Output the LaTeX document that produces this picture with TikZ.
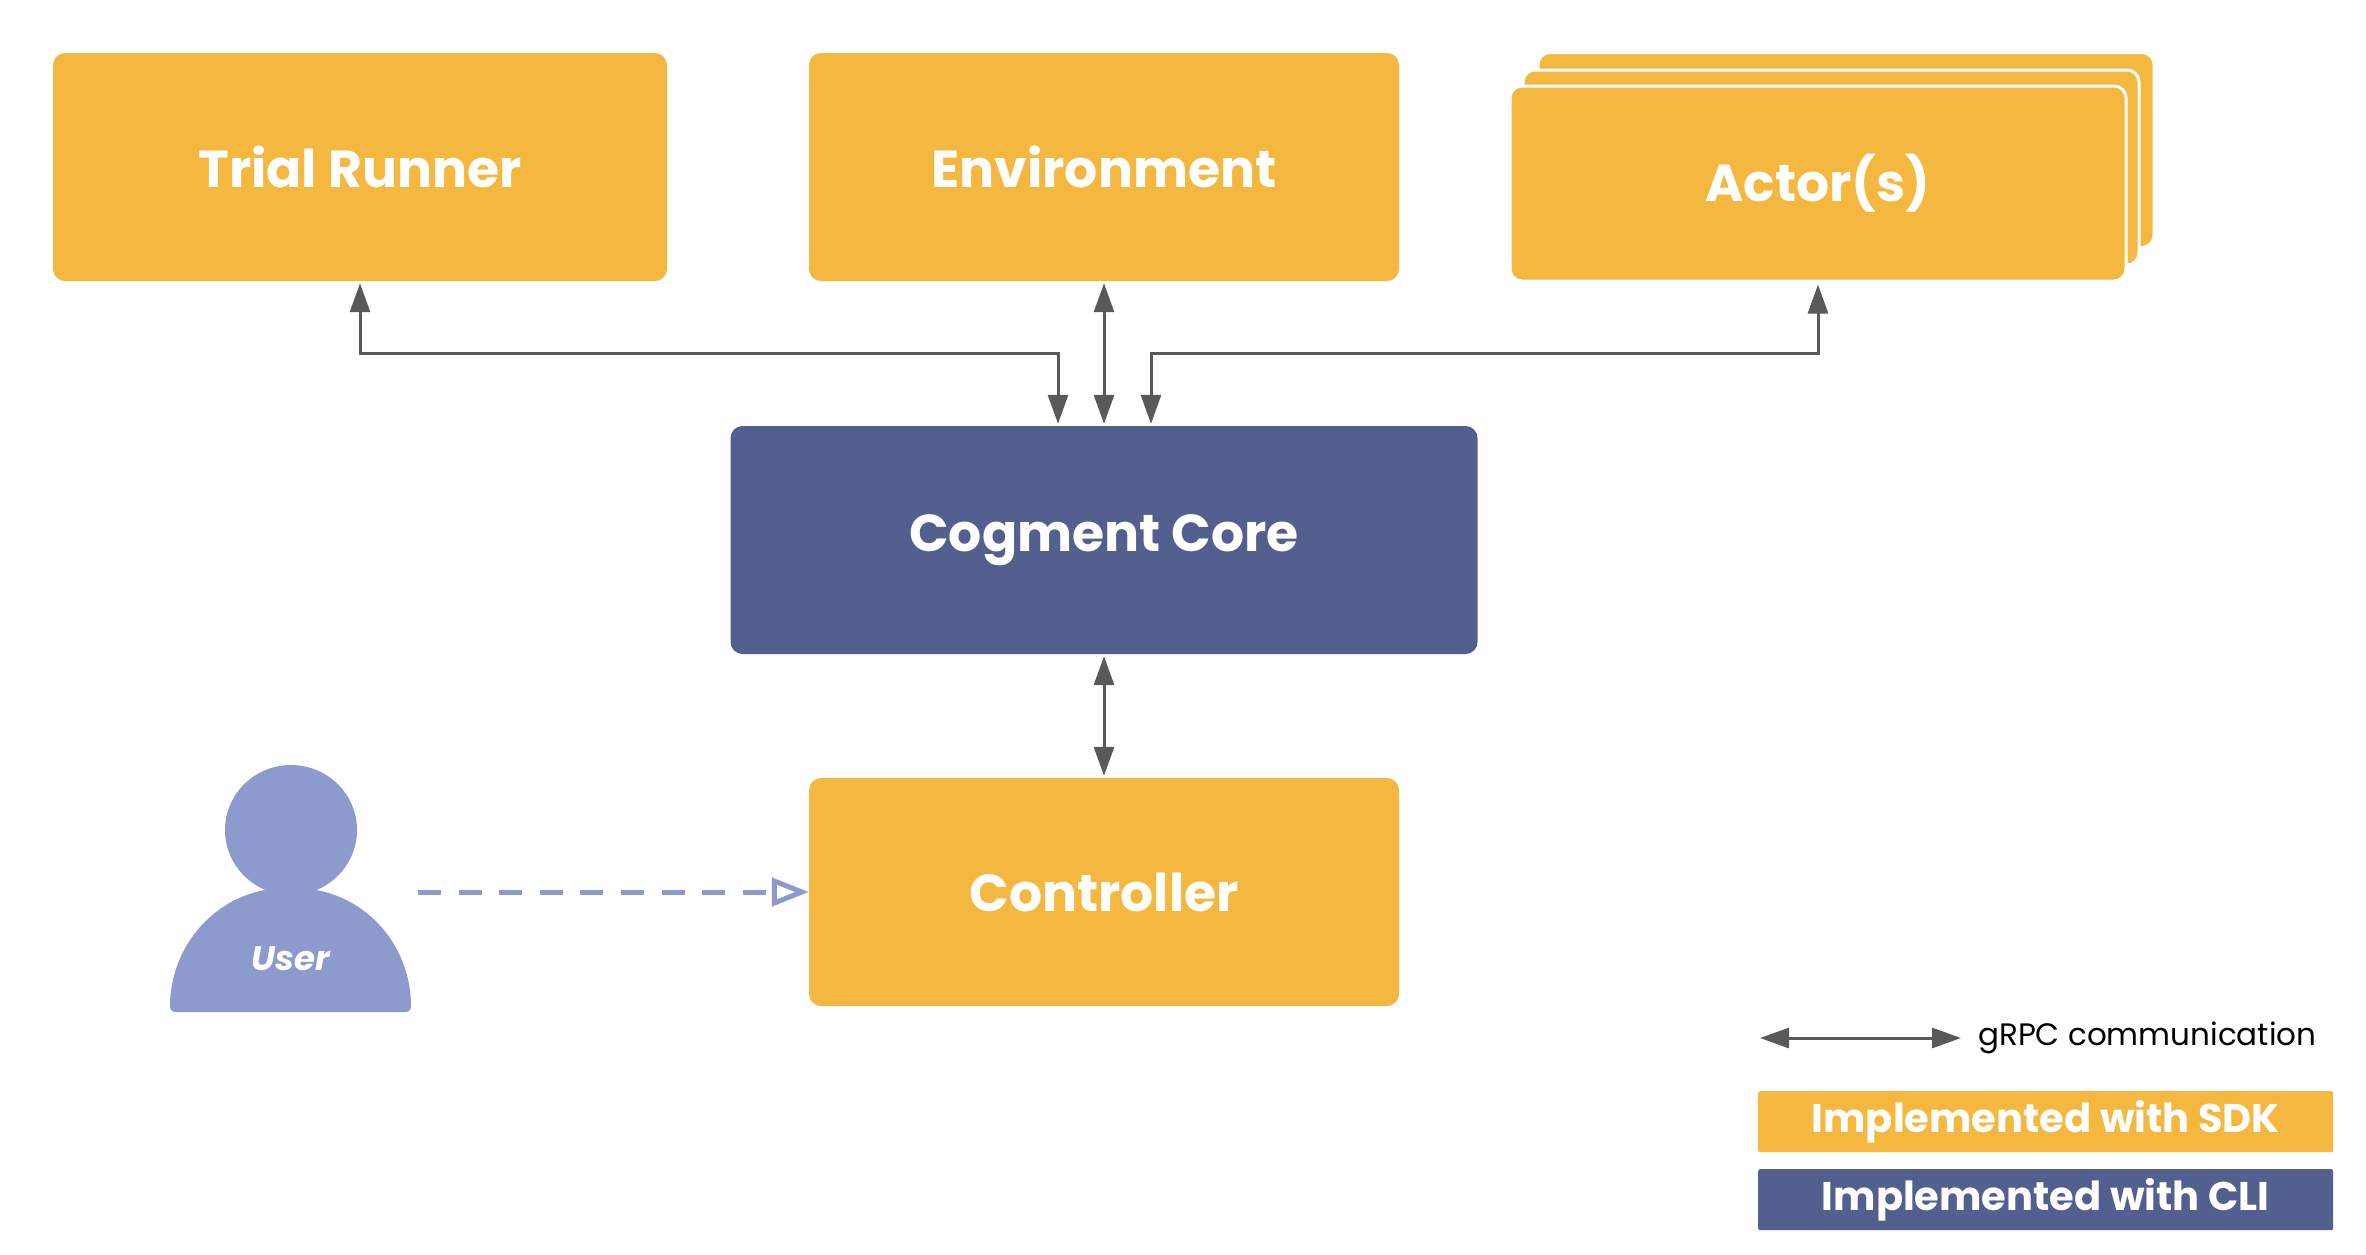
\documentclass[tikz,border=0pt]{standalone}
\usepackage{fontspec}
\setmainfont{Poppins}
\usetikzlibrary{arrows.meta,calc}
\definecolor{sdk}{HTML}{F4B840}
\definecolor{cli}{HTML}{535F8E}
\definecolor{userc}{HTML}{8C9ACD}
\definecolor{wire}{HTML}{595959}
\tikzset{
  box/.style={rounded corners=12pt,minimum width=#1,inner sep=0pt,text=white,font=\fontsize{52}{60}\selectfont\bfseries},
  sdkbox/.style={box=590pt,fill=sdk,minimum height=228pt},
  clibox/.style={box=747pt,fill=cli,minimum height=228pt},
  actorbox/.style={box=616pt,fill=sdk,draw=white,line width=3pt,minimum height=195pt},
  legendbox/.style={rounded corners=2pt,minimum width=575pt,minimum height=61pt,inner sep=0pt,text=white,font=\fontsize{40}{48}\selectfont\bfseries},
  grpc/.style={draw=wire,line width=3pt,{Triangle[length=29pt,width=20pt]}-{Triangle[length=29pt,width=20pt]},shorten <=2pt,shorten >=2pt},
  userflow/.style={draw=userc,line width=5pt,dash pattern=on 23pt off 17.6pt,-{Triangle[open,length=37pt,width=28pt,line width=5pt,fill=white]}},
}
\begin{document}
\begin{tikzpicture}[x=1pt,y=-1pt]
\useasboundingbox (0,0) rectangle (2366,1254);
\node[sdkbox,minimum width=614pt] (trial) at (360,167) {Trial Runner};
\node[sdkbox] (env) at (1104,167) {Environment};
\node[actorbox] (actor3) at (1846,150) {};
\node[actorbox] (actor2) at (1831,167.5) {};
\node[actorbox] (actor1) at (1818,183.5) {Actor(s)};
\node[clibox] (core) at (1104,540) {Cogment Core};
\node[sdkbox] (ctrl) at (1104,892) {Controller};
% user figure
\fill[userc] (225,832) ellipse [x radius=0pt,y radius=0pt];
\fill[userc] (291,830) ellipse [x radius=66pt,y radius=65pt];
\fill[userc] (176,1012) .. controls (172,1012) and (170,1010) .. (170,1006)
  .. controls (170,950) and (210,900) .. (265,890) -- (316,890)
  .. controls (372,900) and (411,950) .. (411,1006)
  .. controls (411,1010) and (409,1012) .. (405,1012) -- cycle;
\node[text=white,font=\fontsize{34}{40}\selectfont\bfseries\itshape,inner sep=0pt] (user) at (291,959) {User};
\coordinate (ustart) at (418,892);
% connectors
\coordinate (cl) at ($(core.north)+(-46,0)$);
\coordinate (cr) at ($(core.north)+(47,0)$);
\path[grpc] (trial.south) |- (cl |- 0,353) -- (cl);
\path[grpc] (actor1.south) |- (cr |- 0,353) -- (cr);
\path[grpc] (env.south) -- (core.north);
\path[grpc] (core.south) -- (ctrl.north);
\draw[userflow] (ustart) -- (ctrl.west |- ustart);
% legend
\coordinate (la) at (1760,1038);
\coordinate (lb) at (1961,1038);
\path[grpc,shorten <=0pt,shorten >=0pt] (la) -- (lb);
\node[anchor=west,inner sep=0pt,font=\fontsize{31}{38}\selectfont] (ltext) at (1978,1038) {gRPC communication};
\node[legendbox,fill=sdk,anchor=north west] (lsdk) at (1758,1091) {Implemented with SDK};
\node[legendbox,fill=cli,anchor=north west] (lcli) at (1758,1169) {Implemented with CLI};
\end{tikzpicture}
\end{document}
